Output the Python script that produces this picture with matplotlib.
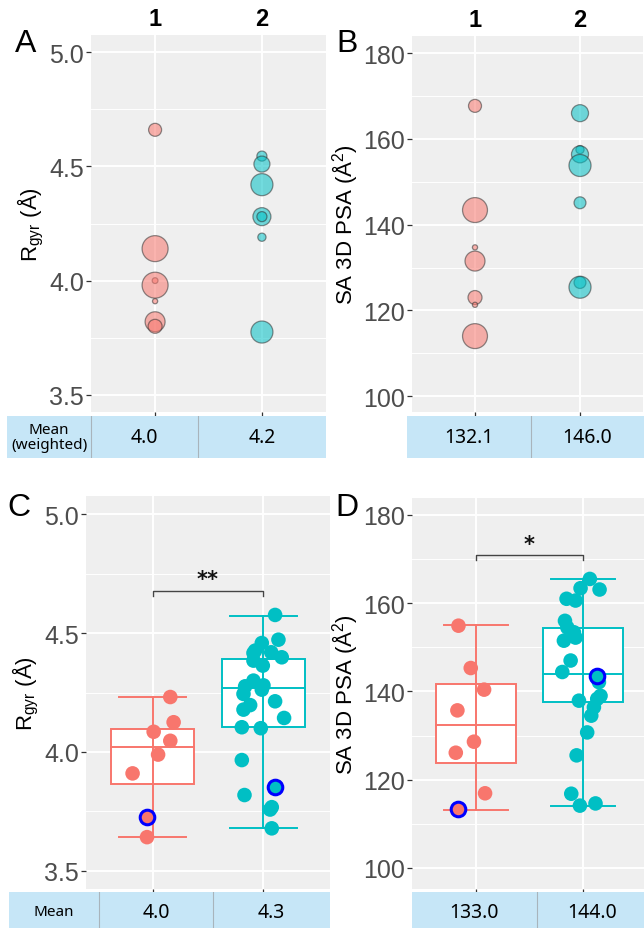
import matplotlib
matplotlib.use("Agg")
import matplotlib.pyplot as plt
from matplotlib.patches import Rectangle

plt.rcParams['font.family'] = ['Liberation Sans', 'DejaVu Sans']
plt.rcParams['mathtext.fontset'] = 'custom'
plt.rcParams['mathtext.rm'] = 'Liberation Sans'

# ---- data ----
groups = ["1", "2"]
red = "#F8766D"
teal = "#00BFC4"

# panel A: Rgyr per conformer, bubble weight
a1_val = [4.66, 4.14, 4.00, 3.98, 3.91, 3.82, 3.80]
a1_w = [0.25, 1.0, 0.05, 1.0, 0.04, 0.59, 0.29]
a2_val = [4.545, 4.51, 4.42, 4.28, 4.28, 4.19, 3.775]
a2_w = [0.15, 0.38, 0.72, 0.48, 0.15, 0.10, 0.72]
a_means = ["4.0", "4.2"]

# panel B: 3D PSA per conformer, bubble weight
b1_val = [167.7, 143.4, 134.7, 131.5, 123.0, 121.3, 114.0]
b1_w = [0.25, 0.92, 0.04, 0.59, 0.29, 0.04, 0.92]
b2_val = [166.0, 157.5, 156.4, 153.8, 145.1, 126.5, 125.4]
b2_w = [0.43, 0.10, 0.43, 0.72, 0.21, 0.21, 0.72]
b_means = ["132.1", "146.0"]

# panel C: Rgyr box plots
c1_val = [4.231, 4.125, 4.085, 4.047, 3.989, 3.91, 3.726, 3.642]
c1_jit = [0.16, 0.19, 0.01, 0.16, 0.05, -0.18, -0.05, -0.05]
c1_mark = 6
c2_val = [4.576, 4.472, 4.458, 4.426, 4.416, 4.419, 4.398, 4.384, 4.363,
          4.30, 4.28, 4.276, 4.262, 4.244, 4.213, 4.197, 4.178, 4.143,
          4.104, 4.10, 3.966, 3.819, 3.852, 3.768, 3.758, 3.679]
c2_jit = [0.105, 0.135, -0.015, -0.075, -0.09, 0.07, 0.165, -0.09, -0.006,
          -0.09, 0.0, -0.165, -0.015, -0.18, 0.105, -0.12, -0.18, 0.186,
          -0.195, -0.024, -0.195, -0.171, 0.105, 0.075, 0.06, 0.075]
c2_mark = 22
c_stats = [dict(whislo=3.642, q1=3.867, med=4.021, q3=4.095, whishi=4.231),
           dict(whislo=3.679, q1=4.104, med=4.269, q3=4.391, whishi=4.573)]
c_means = ["4.0", "4.3"]

# panel D: 3D PSA box plots
d1_val = [154.9, 145.3, 140.4, 135.7, 128.6, 126.1, 116.9, 113.4]
d1_jit = [-0.165, -0.05, 0.075, -0.175, -0.02, -0.19, 0.084, -0.168]
d1_mark = 7
d2_val = [165.5, 163.4, 163.1, 161.0, 160.6, 156.0, 154.5, 153.4, 152.2,
          151.5, 147.0, 144.4, 143.6, 142.1, 139.0, 137.9, 138.3, 136.4,
          134.5, 130.7, 125.5, 116.8, 114.1, 114.6]
d2_jit = [0.065, -0.022, 0.156, -0.153, -0.069, -0.168, -0.146, -0.084, -0.069,
          -0.178, -0.115, -0.193, 0.134, 0.15, 0.165, -0.037, 0.134, 0.103,
          0.078, 0.04, -0.059, -0.109, -0.028, 0.118]
d2_mark = 12
d_stats = [dict(whislo=113.2, q1=123.8, med=132.3, q3=141.7, whishi=155.0),
           dict(whislo=114.1, q1=137.7, med=144.0, q3=154.3, whishi=165.5)]
d_means = ["133.0", "144.0"]

# ---- layout helpers ----
W, H = 644, 929
fig = plt.figure(figsize=(W / 100, H / 100), dpi=100)


def px_axes(x0, y0, x1, y1):
    return fig.add_axes([x0 / W, 1 - y1 / H, (x1 - x0) / W, (y1 - y0) / H])


def style_panel(ax, ylim, major, minor, ylabel):
    ax.set_facecolor("#EFEFEF")
    ax.set_xlim(0.4, 2.6)
    ax.set_ylim(*ylim)
    for s in ax.spines.values():
        s.set_visible(False)
    ax.set_yticks(major)
    ax.set_yticks(minor, minor=True)
    ax.set_xticks([1, 2])
    ax.set_xticklabels([])
    ax.grid(True, which="major", color="white", lw=1.4)
    ax.grid(True, which="minor", axis="y", color="white", lw=0.7)
    ax.set_axisbelow(True)
    ax.tick_params(which="minor", length=0)
    ax.tick_params(which="major", length=3.5, width=0.9, color="#333333",
                   labelcolor="#4D4D4D", labelsize=18, pad=1.5)
    ax.set_ylabel(ylabel, fontsize=16, labelpad=2)


def table(x0, y0, x1, y1, edges, texts, sizes):
    t = px_axes(x0, y0, x1, y1)
    t.set_xlim(x0, x1)
    t.set_ylim(0, 1)
    t.axis("off")
    t.add_patch(Rectangle((x0, 0), x1 - x0, 1, color="#C6E6F7", lw=0))
    for e in edges[1:-1]:
        t.plot([e, e], [0, 1], color="#A8B4BC", lw=0.8)
    for i, txt in enumerate(texts):
        t.text((edges[i] + edges[i + 1]) / 2, 0.5, txt, ha="center", va="center",
               fontsize=sizes[i], family=["Noto Sans", "DejaVu Sans"], linespacing=1.0)


def bubbles(ax, x, vals, w, color):
    size = [wi * 350 for wi in w]
    ax.scatter([x] * len(vals), vals, s=size, color=color, alpha=0.55,
               edgecolors="#333333", linewidths=0.9, zorder=3)


def boxes(ax, stats, vals_list, jit_list, mark_list, colors):
    for i, st in enumerate(stats):
        pos = i + 1
        c = colors[i]
        ax.add_patch(Rectangle((pos - 0.375, st["q1"]), 0.75, st["q3"] - st["q1"],
                               facecolor="white", edgecolor=c, lw=1.4, zorder=2))
        ax.plot([pos - 0.375, pos + 0.375], [st["med"]] * 2, color=c, lw=1.4, zorder=2)
        ax.plot([pos, pos], [st["whislo"], st["whishi"]], color=c, lw=1.4, zorder=2)
        for yv in (st["whislo"], st["whishi"]):
            ax.plot([pos - 0.3, pos + 0.3], [yv, yv], color=c, lw=1.4, zorder=2)
        vals = vals_list[i]
        xs = [pos + j for j in jit_list[i]]
        ax.scatter(xs, vals, s=110, color=c, edgecolors="none", zorder=3)
        m = mark_list[i]
        ax.scatter([xs[m]], [vals[m]], s=110, color=c, edgecolors="#0000FF",
                   linewidths=2.2, zorder=4)


def bracket(ax, y, drop, label, ty):
    ax.plot([1, 1, 2, 2], [y - drop, y, y, y - drop], color="#444444", lw=1.0, zorder=3)
    ax.text(1.5, ty, label, ha="center", va="center", fontsize=15, color="#111111",
            family="DejaVu Sans", fontweight="bold")


# ---- panel A ----
axA = px_axes(91, 36, 326, 413)
style_panel(axA, (3.425, 5.075), [3.5, 4.0, 4.5, 5.0], [3.75, 4.25, 4.75],
            r"$\mathrm{R_{gyr}}$ (Å)")
axA.set_yticklabels(["3.5", "4.0", "4.5", "5.0"])
bubbles(axA, 1, a1_val, a1_w, red)
bubbles(axA, 2, a2_val, a2_w, teal)
for i, g in enumerate(groups):
    axA.text(i + 1, 1.012, g, transform=axA.get_xaxis_transform(), ha="center",
             va="bottom", fontsize=17, fontweight="bold")
table(7, 417, 326, 459, [7, 91, 198, 326], ["Mean\n(weighted)"] + a_means, [11, 14, 14])

# ---- panel B ----
axB = px_axes(412, 37, 643, 413)
style_panel(axB, (96.3, 184.0), [100, 120, 140, 160, 180], [110, 130, 150, 170],
            r"SA 3D PSA (Å$^2$)")
bubbles(axB, 1, b1_val, b1_w, red)
bubbles(axB, 2, b2_val, b2_w, teal)
for i, g in enumerate(groups):
    axB.text(i + 1, 1.012, g, transform=axB.get_xaxis_transform(), ha="center",
             va="bottom", fontsize=17, fontweight="bold")
table(407, 417, 644, 459, [407, 531, 644], b_means, [14, 14])

# ---- panel C ----
axC = px_axes(86, 497, 330, 890)
style_panel(axC, (3.424, 5.076), [3.5, 4.0, 4.5, 5.0], [3.75, 4.25, 4.75],
            r"$\mathrm{R_{gyr}}$ (Å)")
axC.set_yticklabels(["3.5", "4.0", "4.5", "5.0"])
boxes(axC, c_stats, [c1_val, c2_val], [c1_jit, c2_jit], [c1_mark, c2_mark], [red, teal])
bracket(axC, 4.678, 0.021, "**", 4.728)
table(9, 893, 330, 933, [9, 99, 213, 330], ["Mean"] + c_means, [11, 14, 14])

# ---- panel D ----
axD = px_axes(412, 499, 647, 890)
style_panel(axD, (95.2, 183.85), [100, 120, 140, 160, 180], [110, 130, 150, 170],
            r"SA 3D PSA (Å$^2$)")
boxes(axD, d_stats, [d1_val, d2_val], [d1_jit, d2_jit], [d1_mark, d2_mark], [red, teal])
bracket(axD, 170.9, 1.0, "*", 173.4)
table(412, 893, 647, 933, [412, 537, 647], d_means, [14, 14])

# panel letters
for lab, x, y in [("A", 26, 44), ("B", 347, 44), ("C", 19, 508), ("D", 347, 508)]:
    fig.text(x / W, 1 - y / H, lab, fontsize=23, ha="center", va="center")

fig.savefig("out.png", dpi=100)
